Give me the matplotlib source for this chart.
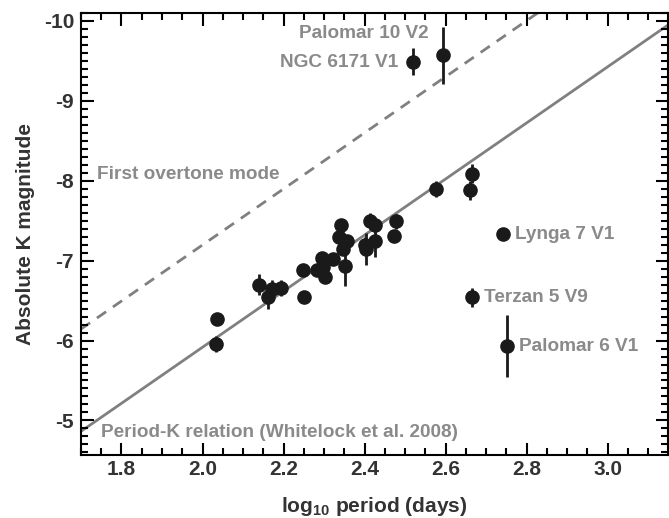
import matplotlib
matplotlib.use("Agg")
import matplotlib.pyplot as plt
import numpy as np
from matplotlib.ticker import MultipleLocator

plt.rcParams['font.family'] = ['Liberation Sans', 'DejaVu Sans']
plt.rcParams['font.weight'] = 'bold'

# ========== 数据 ==========
log_period = [2.035, 2.033, 2.139, 2.161, 2.171, 2.193, 2.247, 2.250, 2.282, 2.294,
              2.298, 2.302, 2.323, 2.337, 2.342, 2.347, 2.356, 2.352, 2.401, 2.403,
              2.413, 2.426, 2.426, 2.477, 2.473, 2.576, 2.664, 2.660, 2.664, 2.742,
              2.752, 2.519, 2.594]
abs_k = [-6.27, -5.96, -6.70, -6.55, -6.64, -6.66, -6.88, -6.55, -6.88, -7.03,
         -6.92, -6.79, -7.02, -7.29, -7.44, -7.14, -7.25, -6.93, -7.19, -7.14,
         -7.50, -7.44, -7.25, -7.49, -7.31, -7.90, -8.09, -7.88, -6.54, -7.33,
         -5.93, -9.49, -9.57]
abs_k_err = [0.03, 0.10, 0.13, 0.15, 0.12, 0.10, 0.04, 0.05, 0.04, 0.05,
             0.05, 0.05, 0.04, 0.05, 0.05, 0.06, 0.05, 0.25, 0.10, 0.20,
             0.10, 0.05, 0.20, 0.10, 0.05, 0.10, 0.12, 0.12, 0.12, 0.07,
             0.39, 0.17, 0.36]

# 标注的变星
star_names = ["Palomar 10 V2", "NGC 6171 V1", "Lynga 7 V1", "Terzan 5 V9", "Palomar 6 V1"]
star_x = [2.594, 2.519, 2.742, 2.664, 2.752]
star_y = [-9.57, -9.49, -7.33, -6.54, -5.93]

# Period-K relation (Whitelock et al. 2008)
PK_SLOPE = -3.51
PK_ZERO = -7.25
PK_PIVOT = 2.38
OVERTONE_OFFSET = -1.28

GRAY = "#8a8a8a"
DARK = "#333333"
FS_NOTE = 13.7

fig = plt.figure(figsize=(6.69, 5.18), dpi=100)
ax = fig.add_axes([0.121, 0.122, 0.877, 0.853])

xline = np.array([1.7, 3.15])
ax.plot(xline, PK_SLOPE * (xline - PK_PIVOT) + PK_ZERO, color="#808080", lw=2, zorder=1)
ax.plot(xline, PK_SLOPE * (xline - PK_PIVOT) + PK_ZERO + OVERTONE_OFFSET,
        color="#808080", lw=2, ls=(0, (4, 3)), zorder=1)

ax.errorbar(log_period, abs_k, yerr=abs_k_err, fmt="o", color="#1a1a1a",
            ms=9.5, elinewidth=2, capsize=0, zorder=3)

# 标签
ax.text(star_x[0] - 0.037, star_y[0] - 0.27, star_names[0], color=GRAY, fontsize=FS_NOTE,
        fontweight="bold", ha="right", va="center")
ax.text(star_x[1] - 0.035, star_y[1] + 0.01, star_names[1], color=GRAY, fontsize=FS_NOTE,
        fontweight="bold", ha="right", va="center")
for name, x, y in zip(star_names[2:], star_x[2:], star_y[2:]):
    ax.text(x + 0.03, y, name, color=GRAY, fontsize=FS_NOTE, fontweight="bold",
            ha="left", va="center")

ax.text(1.74, -8.08, "First overtone mode", color=GRAY, fontsize=FS_NOTE,
        fontweight="bold", ha="left", va="center")
ax.text(1.75, -4.85, "Period-K relation (Whitelock et al. 2008)", color=GRAY,
        fontsize=FS_NOTE, fontweight="bold", ha="left", va="center")

ax.set_xlim(1.7, 3.148)
ax.set_ylim(-4.57, -10.1)
ax.xaxis.set_minor_locator(MultipleLocator(0.05))
ax.yaxis.set_minor_locator(MultipleLocator(0.1))
ax.set_xticks([1.8, 2.0, 2.2, 2.4, 2.6, 2.8, 3.0])
ax.set_xticklabels(["1.8", "2.0", "2.2", "2.4", "2.6", "2.8", "3.0"])
ax.set_yticks([-10, -9, -8, -7, -6, -5])
ax.set_yticklabels(["-10", "-9", "-8", "-7", "-6", "-5"])

ax.tick_params(which="both", direction="in", top=True, right=True, width=1.5,
               labelsize=15, labelcolor=DARK, colors="black")
ax.tick_params(which="major", length=9)
ax.tick_params(which="minor", length=5)
ax.tick_params(axis="x", which="major", pad=4)
ax.tick_params(axis="y", which="major", pad=5)
for sp in ax.spines.values():
    sp.set_linewidth(1.5)

ax.set_xlabel(r"log$_{\mathregular{10}}$ period (days)", fontsize=15,
              fontweight="bold", color=DARK, labelpad=11)
ax.set_ylabel("Absolute K magnitude", fontsize=15, fontweight="bold", color=DARK,
              labelpad=6)

fig.savefig("out.png", dpi=100)
